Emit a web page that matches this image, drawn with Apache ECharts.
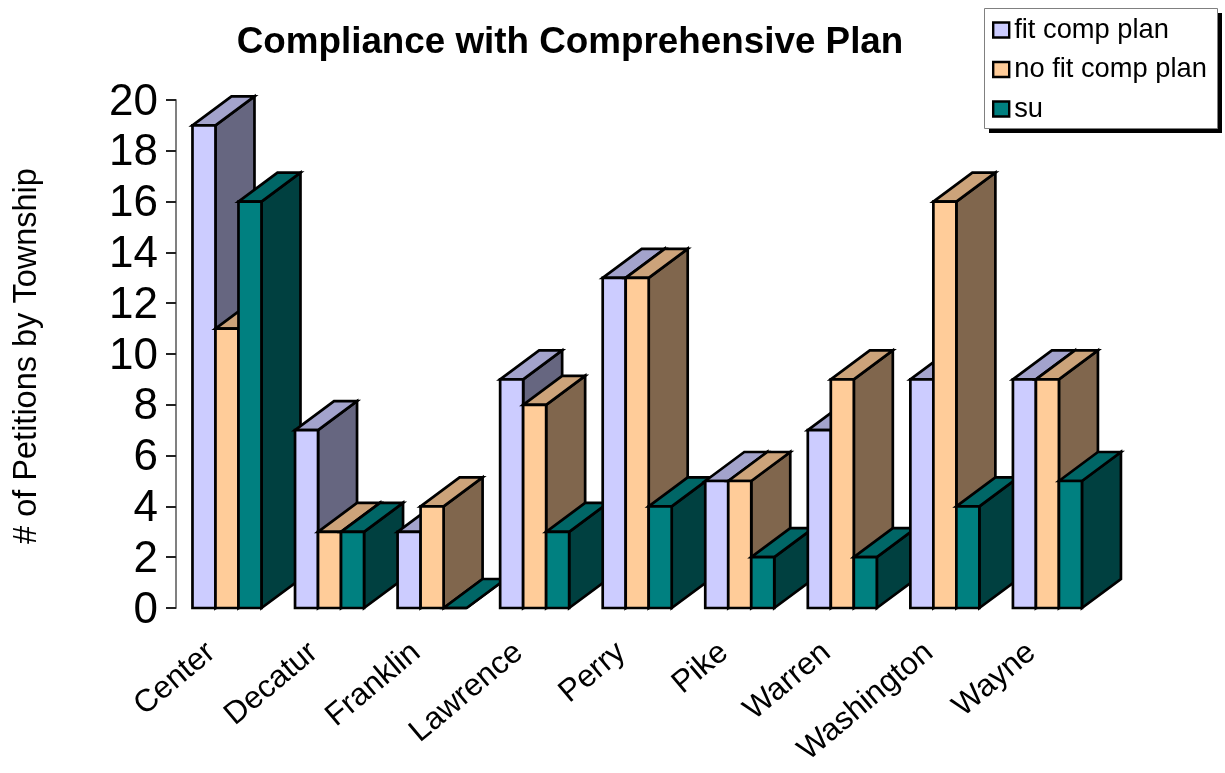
<!DOCTYPE html>
<html><head><meta charset="utf-8">
<style>html,body{margin:0;padding:0;background:#fff}#c{width:1225px;height:773px}</style>
<script src="https://cdn.jsdelivr.net/npm/echarts@6/dist/echarts.min.js"></script>
</head><body><div id="c"></div>
<script>
const categories = ['Center','Decatur','Franklin','Lawrence','Perry','Pike','Warren','Washington','Wayne'];
const fitCompPlan = [19,7,3,9,13,5,7,9,9];
const noFitCompPlan = [11,3,4,8,13,5,9,16,9];
const su = [16,3,0,3,4,2,2,4,5];
const yTicks = {min:0,max:20,interval:2};
const palette = [
  {front:'#CCCCFF',top:'#A3A3CC',side:'#666680'},
  {front:'#FFCC99',top:'#CCA37A',side:'#80664D'},
  {front:'#008080',top:'#006666',side:'#004040'}
];
const FONT = '"Liberation Sans", Arial, sans-serif';
const DX = 39, DY = -29, BAR = 23;
function render3D(si){
  return function(params, api){
    const cat = api.value(0), p = api.coord([cat, api.value(1)]), base = api.coord([cat, 0]);
    const l = p[0] - 34.8 + si*BAR, r = l + BAR, t = p[1], b = base[1];
    const z2 = 10 + cat*10 + si;
    const stroke = {stroke:'#000', lineWidth:2.7, lineJoin:'miter'};
    const c = palette[si];
    const poly = (pts, fill) => ({type:'polygon', z2, shape:{points:pts}, style:Object.assign({fill}, stroke)});
    return {type:'group', children:[
      poly([[r,b],[r+DX,b+DY],[r+DX,t+DY],[r,t]], c.side),
      poly([[l,t],[l+DX,t+DY],[r+DX,t+DY],[r,t]], c.top),
      poly([[l,t],[r,t],[r,b],[l,b]], c.front)
    ]};
  };
}
function series(name, vals, si){
  return {type:'custom', name, renderItem:render3D(si), clip:false,
    encode:{x:0,y:1},
    itemStyle:{color:palette[si].front, borderColor:'#000', borderWidth:2},
    data:vals.map((v,i)=>[i,v])};
}
const chart = echarts.init(document.getElementById('c'), null, {renderer:'canvas'});
chart.setOption({
  animation:false,
  backgroundColor:'#fff',
  title:{text:'Compliance with Comprehensive Plan', left:565, top:19, textAlign:'center',
    textStyle:{fontFamily:FONT,fontSize:36.8,fontWeight:'bold',color:'#000'}},
  graphic:[
    {type:'rect', z:0, shape:{x:989,y:13,width:233,height:120}, style:{fill:'#000'}},
    {type:'rect', z:0, shape:{x:984.5,y:8.5,width:233,height:120}, style:{fill:'#fff',stroke:'#808080',lineWidth:1}}
  ],
  legend:{orient:'vertical', left:984, top:9, padding:[7.5,10,7,8], itemGap:12.5,
    itemWidth:16, itemHeight:15, icon:'rect', selectedMode:false, itemStyle:{borderWidth:2.4,borderColor:'#000'},
    textStyle:{fontFamily:FONT,fontSize:27.3,color:'#000'},
    data:['fit comp plan','no fit comp plan','su']},
  grid:{left:176, top:100, width:923, height:508, containLabel:false, outerBoundsMode:'none'},
  xAxis:{type:'category', data:categories, axisLine:{show:false}, axisTick:{show:false},
    axisLabel:{rotate:40, interval:0, margin:27, padding:[0,21,0,0], fontFamily:FONT, fontSize:31.5, color:'#000'}},
  yAxis:{type:'value', min:yTicks.min, max:yTicks.max, interval:yTicks.interval,
    name:'# of Petitions by Township', nameLocation:'middle', nameRotate:90, nameGap:132,
    nameTextStyle:{fontFamily:FONT,fontSize:32.5,color:'#000',padding:[0,4,0,0]},
    axisLine:{show:true,lineStyle:{color:'#808080',width:2}},
    axisTick:{show:true,length:10,lineStyle:{color:'#222',width:2}},
    splitLine:{show:false},
    axisLabel:{margin:18,verticalAlign:'top',lineHeight:5,fontFamily:FONT,fontSize:44,color:'#000'}},
  series:[series('fit comp plan',fitCompPlan,0),series('no fit comp plan',noFitCompPlan,1),series('su',su,2)]
});
</script></body></html>
